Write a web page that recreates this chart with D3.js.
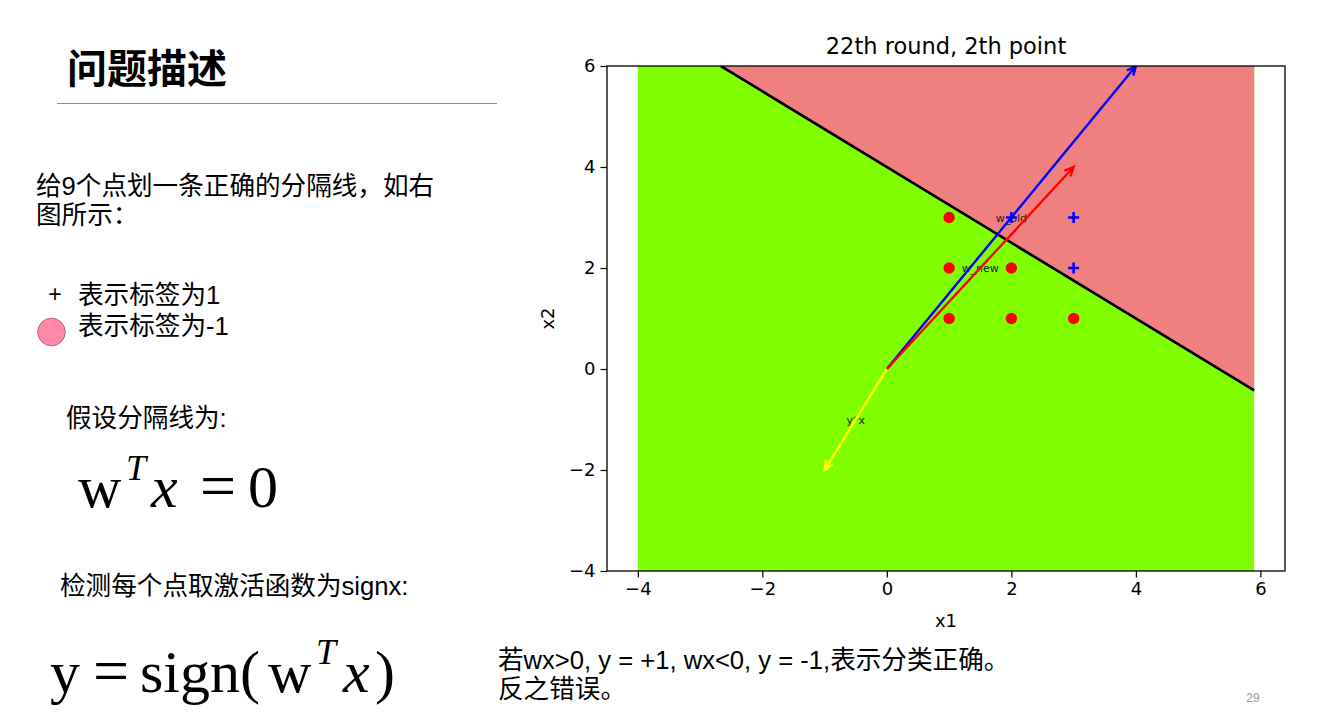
<!DOCTYPE html>
<html><head><meta charset="utf-8">
<script src="https://cdn.jsdelivr.net/npm/d3@7"></script>
<style>
html,body{margin:0;padding:0;background:#fff;}
svg{display:block;}
.slide{font-family:"Liberation Sans","Noto Sans CJK SC",sans-serif;fill:#000;}
.math{font-family:"Liberation Serif","DejaVu Serif",serif;fill:#000;}
.mpl{font-family:"DejaVu Sans",sans-serif;fill:#000;}
</style>
</head><body>
<svg id="s" width="1328" height="712"></svg>
<script>
// ---------- data ----------
const chartTitle = "22th round, 2th point";
const xTicks = [-4, -2, 0, 2, 4, 6];
const yTicks = [-4, -2, 0, 2, 4, 6];
const negX = [1, 1, 2, 1, 2, 3];
const negY = [3, 2, 2, 1, 1, 1];
const posX = [2, 3, 3];
const posY = [3, 3, 2];
const vectorNames = ["w_old", "w_new", "y*x"];
const vectorX = [4, 3, -1];
const vectorY = [6, 4, -2];
const labelX = [2, 1.5, -0.5];
const labelY = [3, 2, -1];
const fillX = [-4, 5.9];
const boundaryX = [-2.667, 5.9];
const boundaryY = [6, -0.425];

// ---------- styles ----------
const vectorColors = ["#0000ff", "#ff0000", "#ffff00"];
const GREEN = "#7fff00", SALMON = "#f08080";

const svg = d3.select("#s");

// ---------- slide text ----------
svg.append("text").attr("class","slide").attr("x",67).attr("y",83)
  .attr("font-size",40).attr("font-weight","bold").text("问题描述");
svg.append("line").attr("x1",57).attr("x2",497).attr("y1",103.5).attr("y2",103.5)
  .attr("stroke","#8c8c8c").attr("stroke-width",1);

const body = [
  {t:"给9个点划一条正确的分隔线，如右", x:36, y:195},
  {t:"图所示：", x:36, y:224},
  {t:"表示标签为1", x:78, y:304},
  {t:"表示标签为-1", x:78, y:335},
  {t:"假设分隔线为:", x:66, y:427},
  {t:"检测每个点取激活函数为signx:", x:60, y:595},
  {t:"若wx>0, y = +1, wx<0, y = -1,表示分类正确。", x:498, y:669},
  {t:"反之错误。", x:498, y:698}
];
body.forEach(d=>svg.append("text").attr("class","slide").attr("x",d.x).attr("y",d.y)
  .attr("font-size",25.6).text(d.t));
svg.append("text").attr("class","slide").attr("x",55).attr("y",302).attr("text-anchor","middle")
  .attr("font-size",23).text("+");
svg.append("circle").attr("cx",51.5).attr("cy",332).attr("r",13.8)
  .attr("fill","#ff88a8").attr("stroke","#c0607e").attr("stroke-width",1);
svg.append("text").attr("class","slide").attr("x",1253).attr("y",702).attr("text-anchor","middle")
  .attr("font-size",12).style("fill","#9a9a9a").text("29");

// formulas
function mathText(x,y,size,t,italic){
  svg.append("text").attr("class","math").attr("x",x).attr("y",y).attr("font-size",size)
    .attr("font-style",italic?"italic":"normal").text(t);
}
// w^T x = 0
mathText(78,507,60,"w",false);
mathText(126,480,36,"T",true);
mathText(151,507,60,"x",true);
mathText(200,507,64,"=",false);
mathText(248,507,60,"0",false);
// y = sign(w^T x)
mathText(50,692,60,"y",false);
mathText(93,692,64,"=",false);
mathText(140,692,60,"sign(",false);
mathText(268,692,60,"w",false);
mathText(316,664,36,"T",true);
mathText(343,692,60,"x",true);
mathText(375,692,60,")",false);

// ---------- chart ----------
const L = 607, R = 1285, T = 66, B = 571;
const x = d3.scaleLinear().domain([-4.495, 6.395]).range([L, R]);
const y = d3.scaleLinear().domain([-4, 6]).range([B, T]);

svg.append("clipPath").attr("id","clip").append("rect")
  .attr("x",L).attr("y",T).attr("width",R-L).attr("height",B-T);
const g = svg.append("g").attr("clip-path","url(#clip)");

g.append("rect").attr("x",x(fillX[0])).attr("y",y(6))
  .attr("width",x(fillX[1])-x(fillX[0])).attr("height",y(-4)-y(6)).attr("fill",GREEN);
g.append("path").attr("fill",SALMON)
  .attr("d", d3.line()([[x(boundaryX[0]),y(boundaryY[0])],[x(fillX[1]),y(6)],[x(boundaryX[1]),y(boundaryY[1])]]) + "Z");
g.append("line").attr("x1",x(boundaryX[0])).attr("y1",y(boundaryY[0]))
  .attr("x2",x(boundaryX[1])).attr("y2",y(boundaryY[1]))
  .attr("stroke","#000").attr("stroke-width",2.7);

g.selectAll(".neg").data(negX).enter().append("circle")
  .attr("cx",(d)=>x(d)).attr("cy",(d,i)=>y(negY[i])).attr("r",5.7).attr("fill","#ff0000");
const ps = 5.5;
g.selectAll(".pos").data(posX).enter().append("path")
  .attr("d",(d,i)=>{const cx=x(d), cy=y(posY[i]); return `M${cx-ps},${cy}H${cx+ps}M${cx},${cy-ps}V${cy+ps}`;})
  .attr("stroke","#0000ff").attr("stroke-width",2.6).attr("fill","none");

vectorNames.forEach((n,i)=>{
  g.append("text").attr("class","mpl").attr("x",x(labelX[i])).attr("y",y(labelY[i])+4)
    .attr("text-anchor","middle").attr("font-size",11).style("fill","#222").text(n);
});

vectorNames.forEach((n,i)=>{
  const x0=x(0), y0=y(0), x1=x(vectorX[i]), y1=y(vectorY[i]);
  const ang=Math.atan2(y1-y0,x1-x0), hl=10, ha=0.42;
  const a1=[x1-hl*Math.cos(ang-ha), y1-hl*Math.sin(ang-ha)];
  const a2=[x1-hl*Math.cos(ang+ha), y1-hl*Math.sin(ang+ha)];
  g.append("path").attr("d",`M${x0},${y0}L${x1},${y1}M${a1[0]},${a1[1]}L${x1},${y1}L${a2[0]},${a2[1]}`)
    .attr("stroke",vectorColors[i]).attr("stroke-width",2.4).attr("fill","none");
});

const fmt = d => (d<0?"\u2212":"") + Math.abs(d);
const xa = svg.append("g").attr("transform",`translate(0,${B})`)
  .call(d3.axisBottom(x).tickValues(xTicks).tickFormat(fmt).tickSize(6.5).tickPadding(5));
const ya = svg.append("g").attr("transform",`translate(${L},0)`)
  .call(d3.axisLeft(y).tickValues(yTicks).tickFormat(fmt).tickSize(6.5).tickPadding(5));
[xa,ya].forEach(a=>{
  a.select(".domain").remove();
  a.selectAll("line").attr("stroke","#000").attr("stroke-width",1.2);
  a.selectAll("text").attr("font-family","DejaVu Sans").attr("font-size",18).attr("fill","#000");
});
svg.append("rect").attr("x",L).attr("y",T).attr("width",R-L).attr("height",B-T)
  .attr("fill","none").attr("stroke","#000").attr("stroke-width",1.3);

svg.append("text").attr("class","mpl").attr("x",(L+R)/2).attr("y",54).attr("text-anchor","middle")
  .attr("font-size",22.5).text(chartTitle);
svg.append("text").attr("class","mpl").attr("x",(L+R)/2).attr("y",627).attr("text-anchor","middle")
  .attr("font-size",18).text("x1");
svg.append("text").attr("class","mpl").attr("transform",`translate(554,${(T+B)/2}) rotate(-90)`)
  .attr("text-anchor","middle").attr("font-size",18).text("x2");
</script>
</body></html>
